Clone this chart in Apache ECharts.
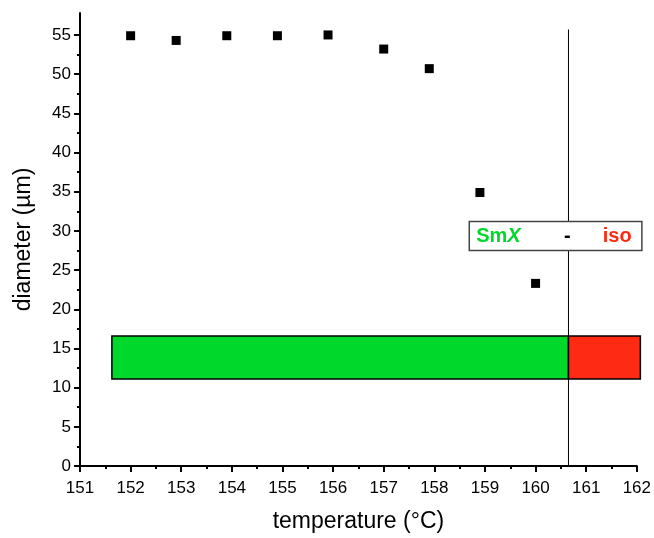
<!DOCTYPE html>
<html>
<head>
<meta charset="utf-8">
<script src="https://cdn.jsdelivr.net/npm/echarts@6/dist/echarts.min.js"></script>
<style>
  html, body { margin: 0; padding: 0; background: #fff; }
  #chart { width: 654px; height: 538px; }
</style>
</head>
<body>
<div id="chart"></div>
<script>
// measured points: temperature (°C) vs diameter (µm)
const temperature = [152, 152.9, 153.9, 154.9, 155.9, 157, 157.9, 158.9, 160];
const diameter = [54.9, 54.3, 54.9, 54.9, 55.0, 53.2, 50.7, 34.9, 23.3];

// phase bars: [start, end, low, high]
const phaseNames = ['SmX', 'iso'];
const phaseStart = [151.63, 160.65];
const phaseEnd = [160.65, 162.07];
const phaseLow = [11.1, 11.1];
const phaseHigh = [16.6, 16.6];
const phaseColors = ['#00D82B', '#FF2A14'];

// transition line
const transitionT = 160.65;
const transitionTop = 55.7;

// label box corners (data units)
const boxX = [158.69, 162.1];
const boxY = [27.5, 31.2];

const xTicks = [151, 152, 153, 154, 155, 156, 157, 158, 159, 160, 161, 162];
const xMinor = [151.5, 152.5, 153.5, 154.5, 155.5, 156.5, 157.5, 158.5, 159.5, 160.5, 161.5];
const yTicks = [0, 5, 10, 15, 20, 25, 30, 35, 40, 45, 50, 55];
const yMinor = [2.5, 7.5, 12.5, 17.5, 22.5, 27.5, 32.5, 37.5, 42.5, 47.5, 52.5];

const chart = echarts.init(document.getElementById('chart'));
const FONT = 'Liberation Sans';

const baseX = {
  type: 'value', min: 151, max: 162,
  splitLine: { show: false }
};
const baseY = {
  type: 'value', min: 0, max: 57.8,
  splitLine: { show: false }
};

chart.setOption({
  animation: false,
  grid: { left: 80, right: 17, top: 13, bottom: 71 },
  xAxis: [
    Object.assign({}, baseX, {
      name: 'temperature (°C)',
      nameLocation: 'middle',
      nameGap: 44,
      nameTextStyle: { fontFamily: FONT, fontSize: 23, color: '#000' },
      axisLine: { lineStyle: { color: '#000', width: 2 } },
      axisTick: { length: 6, lineStyle: { color: '#000', width: 2 }, customValues: xTicks },
      axisLabel: { fontFamily: FONT, fontSize: 17, color: '#000', margin: 14, customValues: xTicks }
    }),
    Object.assign({}, baseX, {
      position: 'bottom',
      axisLine: { show: false },
      axisTick: { length: 3, lineStyle: { color: '#000', width: 2 }, customValues: xMinor },
      axisLabel: { show: false }
    })
  ],
  yAxis: [
    Object.assign({}, baseY, {
      name: 'diameter (µm)',
      nameLocation: 'middle',
      nameGap: 45,
      nameTextStyle: { fontFamily: FONT, fontSize: 23, color: '#000' },
      axisLine: { show: true, lineStyle: { color: '#000', width: 2 } },
      axisTick: { show: true, length: 6, lineStyle: { color: '#000', width: 2 }, customValues: yTicks },
      axisLabel: { fontFamily: FONT, fontSize: 17, color: '#000', margin: 9, customValues: yTicks }
    }),
    Object.assign({}, baseY, {
      position: 'left',
      axisLine: { show: false },
      axisTick: { show: true, length: 3, lineStyle: { color: '#000', width: 2 }, customValues: yMinor },
      axisLabel: { show: false }
    })
  ],
  series: [
    {
      // phase bars
      type: 'custom',
      clip: false,
      z: 2,
      data: phaseNames.map((n, i) => [phaseStart[i], phaseEnd[i], phaseLow[i], phaseHigh[i], i]),
      renderItem: function (params, api) {
        const p0 = api.coord([api.value(0), api.value(3)]);
        const p1 = api.coord([api.value(1), api.value(2)]);
        return {
          type: 'rect',
          shape: { x: p0[0], y: p0[1], width: p1[0] - p0[0], height: p1[1] - p0[1] },
          style: { fill: phaseColors[api.value(4)], stroke: '#000', lineWidth: 1.5 }
        };
      }
    },
    {
      // transition line
      type: 'line',
      z: 3,
      symbol: 'none',
      lineStyle: { color: '#000', width: 1 },
      data: [[transitionT, 0], [transitionT, transitionTop]]
    },
    {
      // phase label box
      type: 'custom',
      clip: false,
      z: 4,
      data: [[boxX[0], boxX[1], boxY[0], boxY[1]]],
      renderItem: function (params, api) {
        const p0 = api.coord([api.value(0), api.value(3)]);
        const p1 = api.coord([api.value(1), api.value(2)]);
        const w = p1[0] - p0[0], h = p1[1] - p0[1];
        const cy = p0[1] + h / 2 + 1;
        const tf = { fontFamily: FONT, fontSize: 20, fontWeight: 'bold', verticalAlign: 'middle' };
        return {
          type: 'group',
          children: [
            { type: 'rect', shape: { x: p0[0], y: p0[1], width: w, height: h },
              style: { fill: '#fff', stroke: '#444', lineWidth: 1.5 } },
            { type: 'text', style: Object.assign({ x: p0[0] + 7, y: cy, text: 'Sm', fill: phaseColors[0], align: 'left' }, tf) },
            { type: 'text', style: Object.assign({ x: p0[0] + 38, y: cy, text: 'X', fill: phaseColors[0], align: 'left', fontStyle: 'italic' }, tf) },
            { type: 'text', style: Object.assign({ x: p0[0] + 98, y: cy, text: '-', fill: '#000', align: 'center' }, tf) },
            { type: 'text', style: Object.assign({ x: p0[0] + 148, y: cy, text: phaseNames[1], fill: phaseColors[1], align: 'center' }, tf) }
          ]
        };
      }
    },
    {
      type: 'scatter',
      z: 5,
      symbol: 'rect',
      symbolSize: 9,
      itemStyle: { color: '#000', opacity: 1 },
      data: temperature.map((t, i) => [t, diameter[i]])
    }
  ]
});

window.addEventListener('resize', function () {
  chart.resize();
});
</script>
</body>
</html>
